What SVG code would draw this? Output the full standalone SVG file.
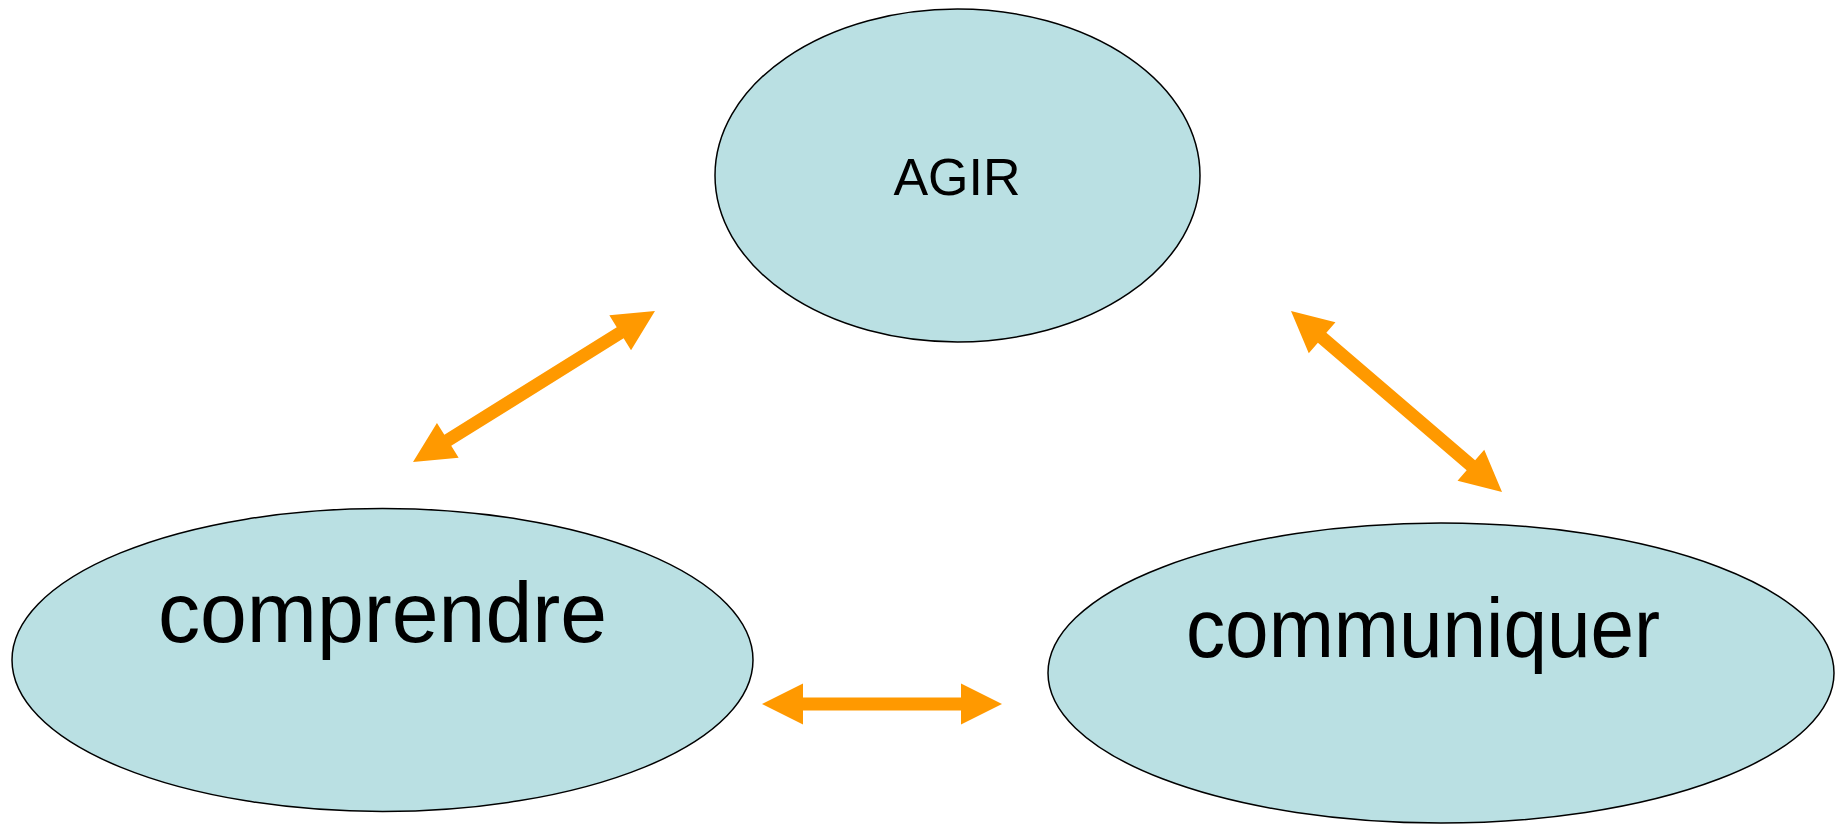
<svg xmlns="http://www.w3.org/2000/svg" width="1836" height="824" viewBox="0 0 1836 824">
<style>
.node{fill:#BAE0E3;stroke:#000;stroke-width:1.5}
.lbl{font-family:"Liberation Sans",Arial,sans-serif;fill:#000;text-anchor:middle}
.arr{fill:#FF9900;stroke:none}
</style>
<rect width="1836" height="824" fill="#fff"/>
<g id="connectors">
<path class="arr" transform="translate(413,462) rotate(-31.96)" d="M0,0 L41,-20.5 L41,-6.5 L244.2,-6.5 L244.2,-20.5 L285.2,0 L244.2,20.5 L244.2,6.5 L41,6.5 L41,20.5 Z"/>
<path class="arr" transform="translate(1291,311) rotate(40.62)" d="M0,0 L41,-20.5 L41,-6.5 L237,-6.5 L237,-20.5 L278,0 L237,20.5 L237,6.5 L41,6.5 L41,20.5 Z"/>
<path class="arr" transform="translate(762,704)" d="M0,0 L41,-20.5 L41,-6.5 L199,-6.5 L199,-20.5 L240,0 L199,20.5 L199,6.5 L41,6.5 L41,20.5 Z"/>
</g>
<g id="agir">
<ellipse class="node" cx="957.5" cy="175.5" rx="242.5" ry="166.5"/>
<text class="lbl" x="957" y="195" font-size="52">AGIR</text>
</g>
<g id="comprendre">
<ellipse class="node" cx="382.5" cy="660" rx="370.5" ry="151.5"/>
<text class="lbl" x="382.5" y="642" font-size="85" textLength="449" lengthAdjust="spacingAndGlyphs">comprendre</text>
</g>
<g id="communiquer">
<ellipse class="node" cx="1441" cy="673" rx="393" ry="150"/>
<text class="lbl" x="1423" y="657" font-size="84" textLength="474" lengthAdjust="spacingAndGlyphs">communiquer</text>
</g>
</svg>
